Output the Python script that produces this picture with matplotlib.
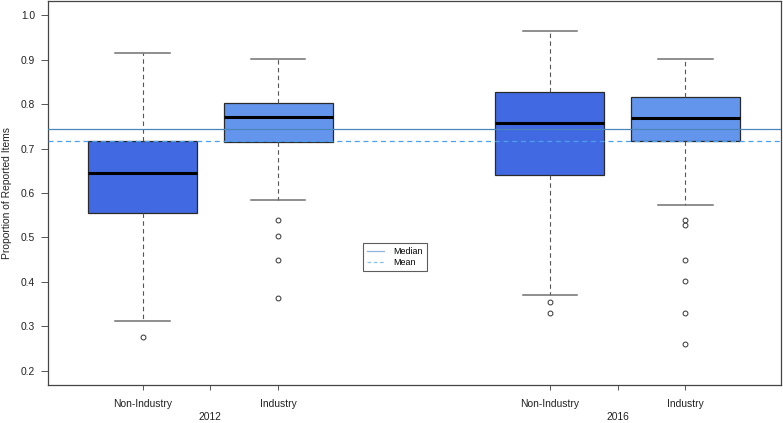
import matplotlib

matplotlib.use("Agg")
import matplotlib.pyplot as plt  # noqa: E402
from matplotlib.lines import Line2D  # noqa: E402

plt.rcParams["font.family"] = ["Liberation Sans", "DejaVu Sans"]

# Box summaries: 2012 Non-Industry, 2012 Industry,
# 2016 Non-Industry, 2016 Industry
groups = ["Non-Industry", "Industry", "Non-Industry", "Industry"]
years = ["2012", "2016"]
positions = [1, 2, 4, 5]
whislo = [0.312, 0.584, 0.370, 0.573]
q1 = [0.554, 0.715, 0.641, 0.717]
med = [0.644, 0.772, 0.757, 0.768]
q3 = [0.717, 0.803, 0.828, 0.816]
whishi = [0.915, 0.902, 0.965, 0.902]
outliers = [
    [0.276],
    [0.540, 0.504, 0.449, 0.363],
    [0.354, 0.329],
    [0.540, 0.528, 0.450, 0.402, 0.329, 0.261],
]
overall_median = 0.745
overall_mean = 0.718

box_colors = ["#4169E1", "#6495ED", "#4169E1", "#6495ED"]

fig = plt.figure(figsize=(7.83, 4.23), dpi=100)
ax = fig.add_axes([47.5 / 783, 38 / 423, 733 / 783, 384 / 423])

stats = []
for i in range(len(groups)):
    stats.append(
        {
            "whislo": whislo[i],
            "q1": q1[i],
            "med": med[i],
            "q3": q3[i],
            "whishi": whishi[i],
            "fliers": outliers[i],
        }
    )

bp = ax.bxp(
    stats,
    positions=positions,
    widths=0.8,
    patch_artist=True,
    showfliers=True,
    boxprops=dict(edgecolor="#2a2a2a", linewidth=0.9),
    medianprops=dict(color="black", linewidth=2.2, solid_capstyle="butt"),
    whiskerprops=dict(color="#555555", linewidth=0.8, linestyle=(0, (4, 3))),
    capprops=dict(color="#707070", linewidth=1.1),
    flierprops=dict(marker="o", markersize=3.5, markerfacecolor="none",
                    markeredgecolor="#333333", markeredgewidth=0.7),
    capwidths=0.4,
)
for patch, c in zip(bp["boxes"], box_colors):
    patch.set_facecolor(c)

ax.axhline(overall_median, color="#4a86b8", linewidth=0.9, zorder=3)
ax.axhline(overall_mean, color="#4aa0ea", linewidth=0.9,
           linestyle=(0, (4, 3)), zorder=3)

ax.set_xlim(0.3, 5.7)
ax.set_ylim(0.168, 1.032)

# x ticks: group names under boxes, year between each pair
year_pos = [(positions[0] + positions[1]) / 2, (positions[2] + positions[3]) / 2]
xt = [positions[0], year_pos[0], positions[1], positions[2], year_pos[1], positions[3]]
xl = [groups[0], "\n" + years[0], groups[1], groups[2], "\n" + years[1], groups[3]]
ax.set_xticks(xt)
ax.set_xticklabels(xl, linespacing=1.35)
ax.set_yticks([0.2, 0.3, 0.4, 0.5, 0.6, 0.7, 0.8, 0.9, 1.0])
ax.set_yticklabels([f"{v:.1f}" for v in ax.get_yticks()])

ax.tick_params(axis="x", length=3.6, width=0.7, color="#555555", pad=6.5,
               labelsize=7.4, labelcolor="#222222")
ax.tick_params(axis="y", length=5, width=0.7, color="#555555", pad=4,
               labelsize=7.4, labelcolor="#222222")
for s in ax.spines.values():
    s.set_color("#444444")
    s.set_linewidth(0.9)

ax.set_ylabel("Proportion of Reported Items", fontsize=7.4, color="#222222")
ax.yaxis.set_label_coords(-0.048, 0.5)

handles = [
    Line2D([], [], color="#8fb6da", linewidth=0.9),
    Line2D([], [], color="#8cc0ec", linewidth=0.9, linestyle=(0, (3, 2))),
]
leg = ax.legend(handles, ["Median", "Mean"], loc="center",
                bbox_to_anchor=(0.474, 0.333), fontsize=6.4, frameon=True,
                fancybox=False, borderpad=0.45, labelspacing=0.15,
                handlelength=1.9, handletextpad=1.0, borderaxespad=0)
leg.get_frame().set_edgecolor("#333333")
leg.get_frame().set_linewidth(0.8)

fig.savefig("out.png", dpi=100)
